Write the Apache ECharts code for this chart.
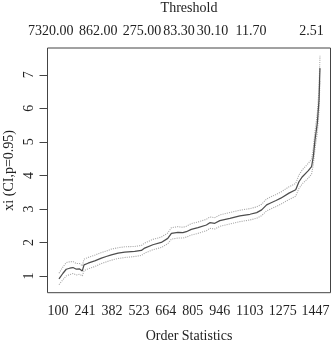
<!DOCTYPE html>
<html><head><meta charset="utf-8">
<script src="https://cdn.jsdelivr.net/npm/echarts@6/dist/echarts.min.js"></script>
<style>html,body{margin:0;padding:0;background:#fff}#c{width:332px;height:342px}</style>
</head><body><div id="c"></div>
<script>
// Order statistic k (x), Hill estimate xi and 95% CI bounds
var orderK = [105,126,143,161,178,196,213,227,236,257,292,327,352,379,414,449,501,536,553,596,640,674,693,727,753,771,797,832,876,894,920,946,999,1051,1104,1139,1165,1191,1209,1240,1265,1308,1343,1360,1378,1409,1426,1435,1444,1456,1465,1468,1470];
var xiEst = [0.91,1.08,1.20,1.23,1.25,1.20,1.21,1.15,1.33,1.38,1.45,1.53,1.58,1.63,1.68,1.71,1.73,1.76,1.83,1.93,2.00,2.12,2.27,2.30,2.29,2.32,2.39,2.44,2.52,2.59,2.57,2.65,2.72,2.79,2.84,2.89,2.97,3.12,3.17,3.25,3.32,3.47,3.57,3.81,3.96,4.14,4.26,4.56,5.06,5.56,6.25,6.85,7.20];
var ciLower = [0.74,0.89,1.00,1.04,1.07,1.03,1.05,1.00,1.16,1.21,1.28,1.37,1.42,1.47,1.52,1.55,1.58,1.61,1.68,1.78,1.85,1.96,2.10,2.13,2.13,2.16,2.22,2.27,2.35,2.42,2.40,2.48,2.55,2.62,2.67,2.72,2.80,2.94,2.99,3.07,3.14,3.28,3.38,3.61,3.75,3.92,4.04,4.32,4.80,5.27,5.93,6.50,6.83];
var ciUpper = [1.08,1.27,1.40,1.42,1.43,1.37,1.37,1.30,1.50,1.55,1.62,1.70,1.74,1.80,1.84,1.87,1.88,1.91,1.98,2.09,2.16,2.28,2.44,2.47,2.45,2.48,2.56,2.61,2.69,2.76,2.74,2.82,2.89,2.96,3.01,3.06,3.14,3.30,3.35,3.43,3.50,3.66,3.76,4.01,4.17,4.36,4.48,4.80,5.32,5.85,6.57,7.20,7.57];
// Axis labels
var orderTicks = [100,241,382,523,664,805,946,1103,1275,1447];
var thresholdPos = [62,311,539,733,908,1109,1426];
var thresholdLabels = ['7320.00','862.00','275.00','83.30','30.10','11.70','2.51'];
var yTicks = [1,2,3,4,5,6,7];

function pairs(xs, ys){ return xs.map(function(x,i){ return [x, ys[i]]; }); }

var font = 'Liberation Serif';
var chart = echarts.init(document.getElementById('c'), null, {renderer:'canvas'});
chart.setOption({
  animation:false,
  backgroundColor:'#fff',
  textStyle:{fontFamily:font},
  grid:{left:47.5, right:1.5, top:48, bottom:49.3, containLabel:false, outerBoundsMode:'none', show:true, borderColor:'#444', borderWidth:1, backgroundColor:'transparent'},
  xAxis:[{
    type:'value', position:'bottom', min:45, max:1525,
    name:'Order Statistics', nameLocation:'middle', nameGap:37, nameMoveOverlap:false,
    nameTextStyle:{fontFamily:font, fontSize:14, color:'#222'},
    axisLine:{show:false}, axisTick:{show:false}, splitLine:{show:false},
    axisLabel:{customValues:orderTicks, formatter:function(v){return String(v);}, fontFamily:font, fontSize:14, color:'#222', margin:12, align:'center', verticalAlign:'top', hideOverlap:false}
  },{
    type:'value', position:'top', min:45, max:1525,
    name:'Threshold', nameLocation:'middle', nameGap:33, nameMoveOverlap:false,
    nameTextStyle:{fontFamily:font, fontSize:14, color:'#222'},
    axisLine:{show:false}, axisTick:{show:false}, splitLine:{show:false},
    axisLabel:{customValues:thresholdPos, formatter:function(v){var i=thresholdPos.indexOf(v); return i>=0?thresholdLabels[i]:'';}, fontFamily:font, fontSize:14, color:'#222', margin:10, align:'center', verticalAlign:'bottom', hideOverlap:false}
  }],
  yAxis:{
    type:'value', min:0.5, max:7.8,
    name:'xi (CI,p=0.95)', nameLocation:'middle', nameGap:31, nameRotate:90, nameMoveOverlap:false,
    nameTextStyle:{fontFamily:font, fontSize:14, color:'#222'},
    axisLine:{show:false}, splitLine:{show:false},
    axisTick:{show:true, customValues:yTicks, length:8, lineStyle:{color:'#444', width:1}},
    axisLabel:{customValues:yTicks, rotate:90, fontFamily:font, fontSize:14, color:'#222', margin:11}
  },
  series:[
    {type:'line', data:pairs(orderK, ciUpper), symbol:'none', lineStyle:{color:'#aaaaaa', width:1.1, type:'dotted'}, z:2},
    {type:'line', data:pairs(orderK, ciLower), symbol:'none', lineStyle:{color:'#aaaaaa', width:1.1, type:'dotted'}, z:2},
    {type:'line', data:pairs(orderK, xiEst), symbol:'none', lineStyle:{color:'#4d4d4d', width:1.25}, z:3}
  ]
});
</script>
</body></html>
